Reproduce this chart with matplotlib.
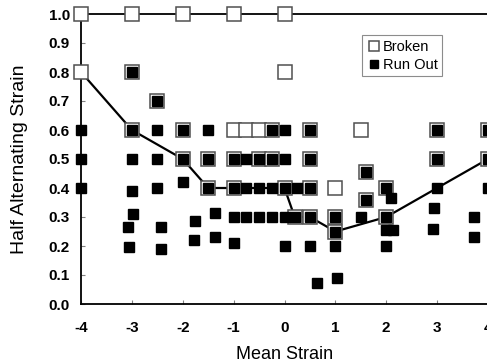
import matplotlib
matplotlib.use('Agg')
from matplotlib import pyplot as plt

plt.rcParams['font.family'] = ['Liberation Sans', 'DejaVu Sans']
plt.rcParams['axes.unicode_minus'] = False

# broken specimens (open squares)
broken_x = [-4, -3, -2, -1, 0,
            -4, -3, 0,
            -2.5,
            -3, -2, -1, -0.75, -0.5, -0.25, 0.5, 1.5, 3, 4,
            -2, -1.5, -1, -0.5, -0.25, 0.5, 3, 4,
            1.6,
            -1.5, -1, 0, 0.5, 1.0, 2.0,
            1.6,
            0.2, 0.5, 1.0, 2.0,
            1.0]
broken_y = [1.0, 1.0, 1.0, 1.0, 1.0,
            0.8, 0.8, 0.8,
            0.7,
            0.6, 0.6, 0.6, 0.6, 0.6, 0.6, 0.6, 0.6, 0.6, 0.6,
            0.5, 0.5, 0.5, 0.5, 0.5, 0.5, 0.5, 0.5,
            0.455,
            0.4, 0.4, 0.4, 0.4, 0.4, 0.4,
            0.36,
            0.3, 0.3, 0.3, 0.3,
            0.25]

# run out specimens (filled squares)
runout_x = [-3,
            -2.5,
            -4, -3, -2.5, -2, -1.5, -0.25, 0, 0.5, 3, 4,
            -4, -3, -2.5, -2, -1.5, -1, -0.75, -0.5, -0.25, 0, 0.5, 3, 4,
            1.6, -2,
            -4, -3, -2.5, -1.5, -1, -0.75, -0.5, -0.25, 0, 0.25, 0.5, 2.0, 3, 4,
            2.1, 1.6, 2.94, -1.37, -2.98,
            -1, -0.75, -0.5, -0.25, 0, 0.2, 0.5, 1.0, 1.5, 2.0, 3.73,
            -1.76, -3.08, -2.43, 2.92, 2.0, 2.13, 1.0, -1.37, 3.73, -1.77, -1.0,
            -3.06, -2.43, 0, 0.5, 1.0, 2.0,
            1.04, 0.63]
runout_y = [0.8,
            0.7,
            0.6, 0.6, 0.6, 0.6, 0.6, 0.6, 0.6, 0.6, 0.6, 0.6,
            0.5, 0.5, 0.5, 0.5, 0.5, 0.5, 0.5, 0.5, 0.5, 0.5, 0.5, 0.5, 0.5,
            0.455, 0.42,
            0.4, 0.39, 0.4, 0.4, 0.4, 0.4, 0.4, 0.4, 0.4, 0.4, 0.4, 0.4, 0.4, 0.4,
            0.365, 0.36, 0.33, 0.315, 0.31,
            0.3, 0.3, 0.3, 0.3, 0.3, 0.3, 0.3, 0.3, 0.3, 0.3, 0.3,
            0.285, 0.265, 0.265, 0.26, 0.255, 0.255, 0.25, 0.23, 0.23, 0.22, 0.21,
            0.197, 0.19, 0.2, 0.2, 0.2, 0.2,
            0.09, 0.073]

# run out limit line
limit_x = [-4, -3, -2, -1.5, -1, -0.5, 0, 0.2, 0.5, 1.0, 2.0, 3.0, 4.0]
limit_y = [0.8, 0.6, 0.5, 0.4, 0.4, 0.4, 0.4, 0.3, 0.3, 0.25, 0.3, 0.4, 0.5]

fig = plt.figure(figsize=(4.87, 3.62), dpi=100)
ax = fig.add_axes([81 / 487, 1 - 304 / 362, 407 / 487, 290 / 362])

ax.plot(limit_x, limit_y, color='black', lw=1.6, zorder=2)
ax.plot(broken_x, broken_y, 's', ms=9.5, mfc='white', mec='#505050', mew=1.1,
        ls='none', clip_on=False, zorder=3, label='Broken')
ax.plot(runout_x, runout_y, 's', ms=6.5, mfc='black', mec='black',
        ls='none', clip_on=False, zorder=4, label='Run Out')

ax.set_xlim(-4, 4)
ax.set_ylim(0, 1.0)
ax.set_xticks(range(-4, 5))
ax.set_yticks([i / 10 for i in range(11)])
ax.set_yticklabels([f'{i / 10:.1f}' for i in range(11)])
ax.tick_params(direction='in', length=3, width=0.8, color='#808080',
               labelsize=11)
ax.tick_params(axis='x', pad=12)
ax.tick_params(axis='y', pad=8)
for lab in ax.get_xticklabels() + ax.get_yticklabels():
    lab.set_fontweight('bold')
ax.spines['right'].set_visible(False)
for s in ['left', 'bottom', 'top']:
    ax.spines[s].set_linewidth(1.3)

ax.set_xlabel('Mean Strain', fontsize=13, labelpad=8)
ax.set_ylabel('Half Alternating Strain', fontsize=14, labelpad=15)

leg = ax.legend(loc='upper left', bbox_to_anchor=(355 / 487, 1 - 28 / 362),
                bbox_transform=fig.transFigure, fontsize=10.5, frameon=True,
                fancybox=False, handletextpad=0.1, handlelength=1.0,
                borderpad=0.3, labelspacing=0.3, markerscale=0.8)
leg.get_frame().set_edgecolor('#707070')
leg.get_frame().set_linewidth(0.8)

fig.savefig('out.png', dpi=100)
